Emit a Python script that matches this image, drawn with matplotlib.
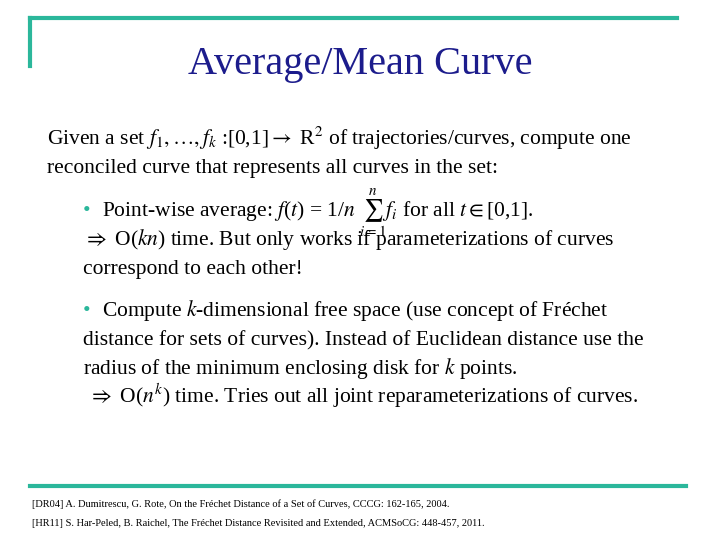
import matplotlib
matplotlib.use("Agg")
import matplotlib.pyplot as plt

plt.rcParams['mathtext.fontset'] = 'stix'
plt.rcParams['font.family'] = ['Liberation Serif', 'DejaVu Serif']

title = "Average/Mean Curve"
intro = [r"Given a set $f_1,\ldots,f_k$ :[0,1]$\rightarrow$ R$^2$ of trajectories/curves, compute one",
         "reconciled curve that represents all curves in the set:"]
bullet1 = [r"Point-wise average: $f$($t$) = 1/$n$ $\sum_{i=1}^{n}f_i$ for all $t\in$[0,1].",
           r"$\Rightarrow$ O($kn$) time. But only works if parameterizations of curves",
           "correspond to each other!"]
bullet2 = [r"Compute $k$-dimensional free space (use concept of Fréchet",
           "distance for sets of curves). Instead of Euclidean distance use the",
           r"radius of the minimum enclosing disk for $k$ points.",
           r" $\Rightarrow$ O($n^k$) time. Tries out all joint reparameterizations of curves."]
refs = ["[DR04] A. Dumitrescu, G. Rote, On the Fréchet Distance of a Set of Curves, CCCG: 162-165, 2004.",
        "[HR11] S. Har-Peled, B. Raichel, The Fréchet Distance Revisited and Extended, ACMSoCG: 448-457, 2011."]

teal = "#2bb79b"
fig = plt.figure(figsize=(7.2, 5.4), dpi=100)
ax = fig.add_axes([0, 0, 1, 1])
ax.set_xlim(0, 720); ax.set_ylim(540, 0); ax.axis('off')

ax.plot([30, 677], [18, 18], color=teal, lw=3)
ax.plot([30, 30], [18, 66], color=teal, lw=3)
ax.plot([30, 686], [486, 486], color=teal, lw=3)

ax.text(360, 74, title, ha='center', va='baseline', fontsize=29, color='#1c1c8c')

fs = 15.5
for i, s in enumerate(intro):
    ax.text(47, 145 + 28 * i, s, fontsize=fs, va='baseline')
ys1 = [216, 245, 274]
for i, s in enumerate(bullet1):
    ax.text(83 + (19 if i == 0 else 0), ys1[i], s, fontsize=fs, va='baseline')
ax.text(83, ys1[0], "•", fontsize=fs, color=teal, va='baseline')
ys2 = [316, 345, 374, 403]
for i, s in enumerate(bullet2):
    ax.text(83 + (19 if i == 0 else 0), ys2[i], s, fontsize=fs, va='baseline')
ax.text(83, ys2[0], "•", fontsize=fs, color=teal, va='baseline')

for i, s in enumerate(refs):
    ax.text(32, 507 + 19 * i, s, fontsize=7.5, va='baseline')

fig.savefig("out.png", dpi=100)
